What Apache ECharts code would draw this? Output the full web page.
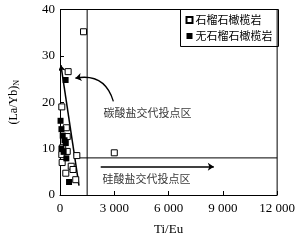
<!DOCTYPE html>
<html><head><meta charset="utf-8">
<script src="https://cdn.jsdelivr.net/npm/echarts@6/dist/echarts.min.js"></script>
<style>html,body{margin:0;padding:0;background:#fff}#c{width:298px;height:241px}</style>
</head><body><div id="c"></div>
<script>
var xTicks = [0, 3000, 6000, 9000, 12000];
var yTicks = [0, 10, 20, 30, 40];
var seriesNames = ['石榴石橄榄岩', '无石榴石橄榄岩'];
var garnetPts = [[1300,35.2],[450,26.6],[3000,9.1],[100,19],[350,14.5],[400,12.6],[150,10.2],[400,9.4],[930,8.5],[100,8.7],[120,7.0],[620,6.2],[720,5.5],[320,4.7],[870,3.3]];
var noGarnetPts = [[310,24.8],[30,16],[80,14.2],[150,12.8],[250,11.8],[320,11.2],[80,10],[200,9.3],[350,7.9],[500,2.8]];
var trendLine = [[1050,2],[50,28]];
var boundaryV = [[1500,0],[1500,40]];
var boundaryH = [[820,8],[12000,8]];
var carbArrow = [[2950,20.2],[850,25.2]];
var siliArrow = [[2250,6.1],[8500,6.1]];
var carbLabel = {text:'碳酸盐交代投点区', pos:[2400,17.8]};
var siliLabel = {text:'硅酸盐交代投点区', pos:[2350,3.4]};

var serif = 'Liberation Serif';
var cjk = 'Noto Sans CJK SC';
var chart = echarts.init(document.getElementById('c'));
function fmt(v){ return v >= 1000 ? String(Math.floor(v/1000)) + ' ' + String(v%1000).padStart(3,'0') : String(v); }
chart.setOption({
  animation:false,
  grid:{left:52.5,right:19.5,top:9.5,bottom:42,containLabel:false},
  xAxis:{type:'value',min:xTicks[0],max:xTicks[xTicks.length-1],interval:3000,
    name:'Ti/Eu',nameLocation:'middle',nameGap:28,
    nameTextStyle:{fontFamily:serif,fontSize:13,color:'#000'},
    axisLine:{show:true,lineStyle:{color:'#000',width:1}},
    axisTick:{show:true,inside:true,length:4,lineStyle:{color:'#000'}},
    axisLabel:{fontFamily:serif,fontSize:13,color:'#000',margin:7,formatter:fmt},
    splitLine:{show:false}},
  yAxis:{type:'value',min:yTicks[0],max:yTicks[yTicks.length-1],interval:10,
    name:'{a|(La/Yb)}{b|N}',nameLocation:'middle',nameGap:39,
    nameTextStyle:{rich:{a:{fontFamily:serif,fontSize:12,color:'#000'},b:{fontFamily:serif,fontSize:8,color:'#000',padding:[6,0,0,0]}}},
    axisLine:{show:true,lineStyle:{color:'#000',width:1}},
    axisTick:{show:true,inside:true,length:4,lineStyle:{color:'#000'}},
    axisLabel:{fontFamily:serif,fontSize:13,color:'#000',margin:5},
    splitLine:{show:false}},
  legend:{orient:'vertical',right:19.5,top:9.5,itemWidth:6,itemHeight:6,itemGap:5,
    padding:[5,6,5,5],borderColor:'#000',borderWidth:1,backgroundColor:'#fff',
    textStyle:{fontFamily:cjk,fontSize:11,color:'#000',padding:[0,0,0,-2]},
    data:[{name:seriesNames[0],icon:'rect'},{name:seriesNames[1],icon:'rect'}]},
  series:[
    {name:seriesNames[0],type:'scatter',symbol:'rect',symbolSize:6,z:5,
     itemStyle:{color:'#fff',borderColor:'#000',borderWidth:1,opacity:1},data:garnetPts},
    {name:seriesNames[1],type:'scatter',symbol:'rect',symbolSize:6,z:6,
     itemStyle:{color:'#000',opacity:1},data:noGarnetPts},
    {type:'line',data:boundaryV,symbol:'none',lineStyle:{color:'#000',width:1},silent:true,z:2},
    {type:'line',data:boundaryH,symbol:'none',lineStyle:{color:'#000',width:1},silent:true,z:2},
    {type:'lines',coordinateSystem:'cartesian2d',z:4,symbol:['none','arrow'],symbolSize:6,
     lineStyle:{color:'#000',width:1.5,curveness:0,opacity:1},
     data:[{coords:trendLine},{coords:siliArrow}]},
    {type:'lines',coordinateSystem:'cartesian2d',z:4,symbol:['none','arrow'],symbolSize:6,
     lineStyle:{color:'#000',width:1.3,curveness:-0.45,opacity:1},
     data:[{coords:carbArrow}]},
    {type:'scatter',symbolSize:0,silent:true,z:3,
     label:{show:true,position:'right',distance:0,formatter:function(p){return p.data[2];},
       fontFamily:cjk,fontSize:11,color:'#000'},
     data:[[carbLabel.pos[0],carbLabel.pos[1],carbLabel.text],[siliLabel.pos[0],siliLabel.pos[1],siliLabel.text]]}
  ]
});
var p0 = chart.convertToPixel({gridIndex:0},[xTicks[0],yTicks[yTicks.length-1]]);
var p1 = chart.convertToPixel({gridIndex:0},[xTicks[xTicks.length-1],yTicks[0]]);
chart.setOption({graphic:[{type:'polyline',silent:true,z:10,shape:{points:[[p0[0],p0[1]],[p1[0],p0[1]],[p1[0],p1[1]]]},style:{stroke:'#000',lineWidth:1,fill:null}}]});
</script></body></html>
